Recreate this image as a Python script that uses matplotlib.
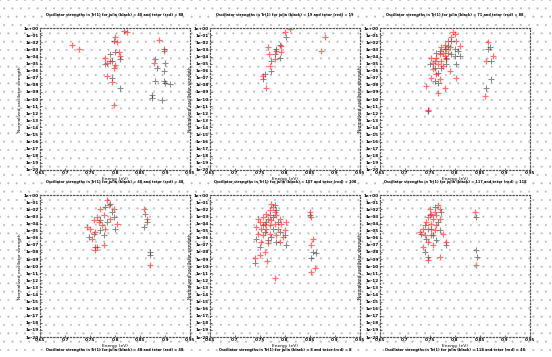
import matplotlib
matplotlib.use('Agg')
import matplotlib.pyplot as plt
from matplotlib.patches import Rectangle
import numpy as np

#----------------------------------------------------
# Data (energy in eV, log10 of strength)
#----------------------------------------------------
p1_black_e = [0.797, 0.800, 0.790, 0.793, 0.809, 0.793, 0.810, 0.780, 0.898, 0.880, 0.883, 0.897,
              0.900, 0.897, 0.900, 0.910, 0.880, 0.873, 0.873, 0.893]
p1_black_f = [-1.8, -3.4, -3.7, -4.6, -8.4, -7.0, -4.4, -5.1, -3.0, -4.4, -5.6, -6.1,
              -4.9, -7.5, -7.7, -7.9, -7.5, -9.4, -9.8, -10.1]
p1_red_e = [0.713, 0.727, 0.800, 0.817, 0.823, 0.803, 0.807, 0.780, 0.783, 0.800, 0.797, 0.783,
            0.793, 0.797, 0.790, 0.887, 0.897, 0.878, 0.810]
p1_red_f = [-2.3, -2.9, -1.3, -0.4, -0.6, -2.0, -3.4, -4.2, -4.9, -5.2, -5.6, -6.8,
            -7.6, -10.8, -4.6, -1.6, -3.2, -4.9, -3.9]

p2_black_e = [0.803, 0.790, 0.783, 0.790, 0.773, 0.773, 0.760, 0.757, 0.780]
p2_black_f = [-1.3, -2.3, -3.0, -4.2, -4.6, -6.1, -6.5, -7.2, -3.7]
p2_red_e = [0.810, 0.800, 0.793, 0.783, 0.767, 0.769, 0.780, 0.770, 0.757, 0.762, 0.880, 0.873, 0.793]
p2_red_f = [-0.1, -0.6, -2.5, -3.2, -2.7, -3.7, -4.4, -5.3, -6.8, -8.4, -1.3, -3.2, -3.4]

p3_black_e = [0.793, 0.787, 0.780, 0.770, 0.800, 0.807, 0.793, 0.783, 0.763, 0.773, 0.767, 0.760,
              0.767, 0.783, 0.803, 0.800, 0.750, 0.867, 0.870, 0.873, 0.863, 0.873, 0.747, 0.760, 0.810]
p3_black_f = [-1.8, -2.5, -3.0, -3.2, -3.0, -3.2, -3.7, -4.2, -3.5, -5.6, -6.3, -7.5,
              -7.7, -5.1, -5.1, -3.9, -5.1, -3.0, -2.7, -4.6, -8.4, -7.2, -11.7, -5.6, -3.9]
p3_red_e = [0.797, 0.800, 0.793, 0.787, 0.780, 0.773, 0.783, 0.790, 0.777, 0.770, 0.787, 0.780,
            0.763, 0.753, 0.757, 0.767, 0.773, 0.757, 0.763, 0.753, 0.770, 0.790, 0.803, 0.780,
            0.767, 0.743, 0.747, 0.867, 0.862, 0.877, 0.860, 0.803, 0.810, 0.783, 0.760, 0.777]
p3_red_f = [-0.6, -0.85, -1.3, -1.8, -2.3, -2.7, -3.0, -2.7, -3.5, -3.7, -3.5, -3.9,
            -4.2, -4.2, -4.9, -5.1, -4.6, -5.8, -6.5, -7.0, -7.2, -6.1, -7.0, -8.4,
            -9.1, -8.2, -11.5, -2.0, -4.6, -3.9, -9.6, -1.8, -2.5, -4.4, -4.6, -5.3]

p4_black_e = [0.790, 0.780, 0.793, 0.783, 0.770, 0.757, 0.747, 0.760, 0.797, 0.800, 0.777,
              0.860, 0.863, 0.857, 0.869, 0.870, 0.770]
p4_black_f = [-1.2, -1.6, -2.3, -3.8, -4.9, -5.4, -5.9, -7.3, -3.0, -4.7, -5.6,
              -2.6, -3.8, -4.5, -8.0, -8.4, -3.5]
p4_red_e = [0.783, 0.787, 0.770, 0.777, 0.763, 0.757, 0.767, 0.743, 0.750, 0.773, 0.760,
            0.753, 0.763, 0.777, 0.760, 0.790, 0.797, 0.780, 0.857, 0.863, 0.869, 0.803]
p4_red_f = [-0.7, -1.4, -1.9, -2.8, -3.0, -3.5, -3.8, -4.5, -4.7, -4.2, -5.2,
            -6.1, -7.3, -7.0, -7.7, -3.3, -1.9, -4.7, -1.9, -3.3, -9.8, -4.0]

p5_black_e = [0.780, 0.770, 0.777, 0.787, 0.763, 0.757, 0.777, 0.790, 0.800, 0.743, 0.750,
              0.740, 0.773, 0.803, 0.767, 0.783, 0.760, 0.850, 0.857, 0.863, 0.853, 0.783]
p5_black_f = [-1.4, -2.8, -3.0, -3.8, -3.8, -4.2, -4.7, -5.2, -5.6, -6.1, -7.3,
              -9.6, -5.9, -7.0, -6.3, -6.6, -5.2, -2.8, -8.0, -8.2, -8.9, -2.1]
p5_red_e = [0.773, 0.777, 0.770, 0.780, 0.763, 0.783, 0.757, 0.767, 0.773, 0.790, 0.750,
            0.760, 0.770, 0.780, 0.793, 0.743, 0.753, 0.763, 0.787, 0.800, 0.747, 0.757,
            0.770, 0.783, 0.797, 0.753, 0.767, 0.790, 0.760, 0.750, 0.765, 0.740, 0.780,
            0.803, 0.747, 0.850, 0.853, 0.857, 0.853, 0.860, 0.853]
p5_red_f = [-1.2, -1.6, -2.1, -2.3, -2.6, -2.8, -3.0, -3.3, -3.5, -3.3, -3.8,
            -4.0, -4.2, -4.0, -4.0, -4.5, -4.7, -4.7, -4.7, -4.9, -5.4, -5.6,
            -5.4, -5.6, -5.9, -6.6, -6.8, -6.6, -8.0, -8.4, -9.3, -8.9, -11.7,
            -3.8, -3.3, -2.3, -3.0, -6.1, -7.0, -10.3, -10.8]

p6_black_e = [0.760, 0.773, 0.750, 0.767, 0.740, 0.753, 0.770, 0.733, 0.743, 0.763, 0.783,
              0.740, 0.747, 0.843, 0.843, 0.845, 0.757]
p6_black_f = [-1.6, -2.3, -2.8, -3.8, -4.2, -4.7, -4.9, -5.4, -6.1, -6.3, -7.0,
              -8.0, -8.7, -3.0, -7.7, -8.7, -5.6]
p6_red_e = [0.767, 0.770, 0.760, 0.753, 0.763, 0.747, 0.757, 0.770, 0.743, 0.753, 0.763,
            0.737, 0.747, 0.760, 0.730, 0.740, 0.753, 0.777, 0.747, 0.737, 0.757, 0.770,
            0.747, 0.783, 0.840, 0.843, 0.750]
p6_red_f = [-1.4, -1.9, -2.3, -2.6, -2.8, -3.0, -3.3, -3.3, -3.8, -4.0, -4.2,
            -4.7, -4.7, -4.9, -5.2, -5.6, -5.6, -5.4, -6.6, -7.3, -7.0, -8.7,
            -9.1, -6.6, -2.3, -9.8, -1.9]

prefix = 'Oscillator strengths in Tr(1) for julia (black) = '
titles = [prefix + '40 and tetor (red) = 88',
          prefix + '19 and tetor (red) = 19',
          prefix + '71 and tetor (red) = 88',
          prefix + '48 and tetor (red) = 48',
          prefix + '107 and tetor (red) = 108',
          prefix + '117 and tetor (red) = 118']
bottom_notes = [prefix + '48 and tetor (red) = 48',
                prefix + '8 and tetor (red) = 8',
                prefix + '118 and tetor (red) = 48']

x_ticks = [0.65, 0.70, 0.75, 0.80, 0.85, 0.90, 0.95]
x_labels = ['0.65', '0.7', '0.75', '0.8', '0.85', '0.9', '0.95']
y_exps = list(range(-20, 1))

panels = [(p1_black_e, p1_black_f, p1_red_e, p1_red_f),
          (p2_black_e, p2_black_f, p2_red_e, p2_red_f),
          (p3_black_e, p3_black_f, p3_red_e, p3_red_f),
          (p4_black_e, p4_black_f, p4_red_e, p4_red_f),
          (p5_black_e, p5_black_f, p5_red_e, p5_red_f),
          (p6_black_e, p6_black_f, p6_red_e, p6_red_f)]

#----------------------------------------------------
# Figure with dotted background
#----------------------------------------------------
plt.rcParams['hatch.linewidth'] = 0.25
fig = plt.figure(figsize=(5.52, 3.57), dpi=100)
fig.patch.set_facecolor('white')

bg = fig.add_axes([0, 0, 1, 1], zorder=-5)
bg.axis('off')
bg.add_patch(Rectangle((0, 0), 1, 1, transform=bg.transAxes, facecolor='white',
                       edgecolor='#b8b8b8', hatch='..', linewidth=0))

lefts = [0.0725, 0.380, 0.688]
bottoms = [0.524, 0.056]
w, h = 0.272, 0.397

for i, (be, bf, re_, rf) in enumerate(panels):
    ax = fig.add_axes([lefts[i % 3], bottoms[i // 3], w, h])
    ax.set_facecolor('none')
    ax.semilogy(be, 10.0 ** np.array(bf), '+', color='k', alpha=0.45,
                markersize=5, markeredgewidth=0.8)
    ax.semilogy(re_, 10.0 ** np.array(rf), '+', color='red', alpha=0.55,
                markersize=5, markeredgewidth=0.9)
    ax.set_xlim(0.65, 0.95)
    ax.set_ylim(1e-20, 1)
    ax.set_xticks(x_ticks)
    ax.set_xticklabels(x_labels, fontweight='bold')
    ax.set_yticks([10.0 ** e for e in y_exps])
    ax.set_yticklabels(['1e%03d' % e if e < 0 else '1e+00' for e in y_exps],
                       fontweight='bold')
    ax.minorticks_off()
    ax.tick_params(labelsize=3, length=1.5, width=0.4, pad=1, direction='in')
    for s in ax.spines.values():
        s.set_linestyle(':')
        s.set_color('#555555')
        s.set_linewidth(0.9)
    ax.set_xlabel('Energy (eV)', fontsize=3.2, labelpad=1)
    ax.set_ylabel('Normalized oscillator strength', fontsize=3.2, labelpad=1)
    ax.set_title(titles[i], fontsize=2.5, fontweight='bold', pad=9)

for j in range(3):
    fig.text(lefts[j] + w / 2, 0.02, bottom_notes[j], fontsize=2.5,
             fontweight='bold', ha='center', va='center')

fig.savefig('out.png', dpi=100)
